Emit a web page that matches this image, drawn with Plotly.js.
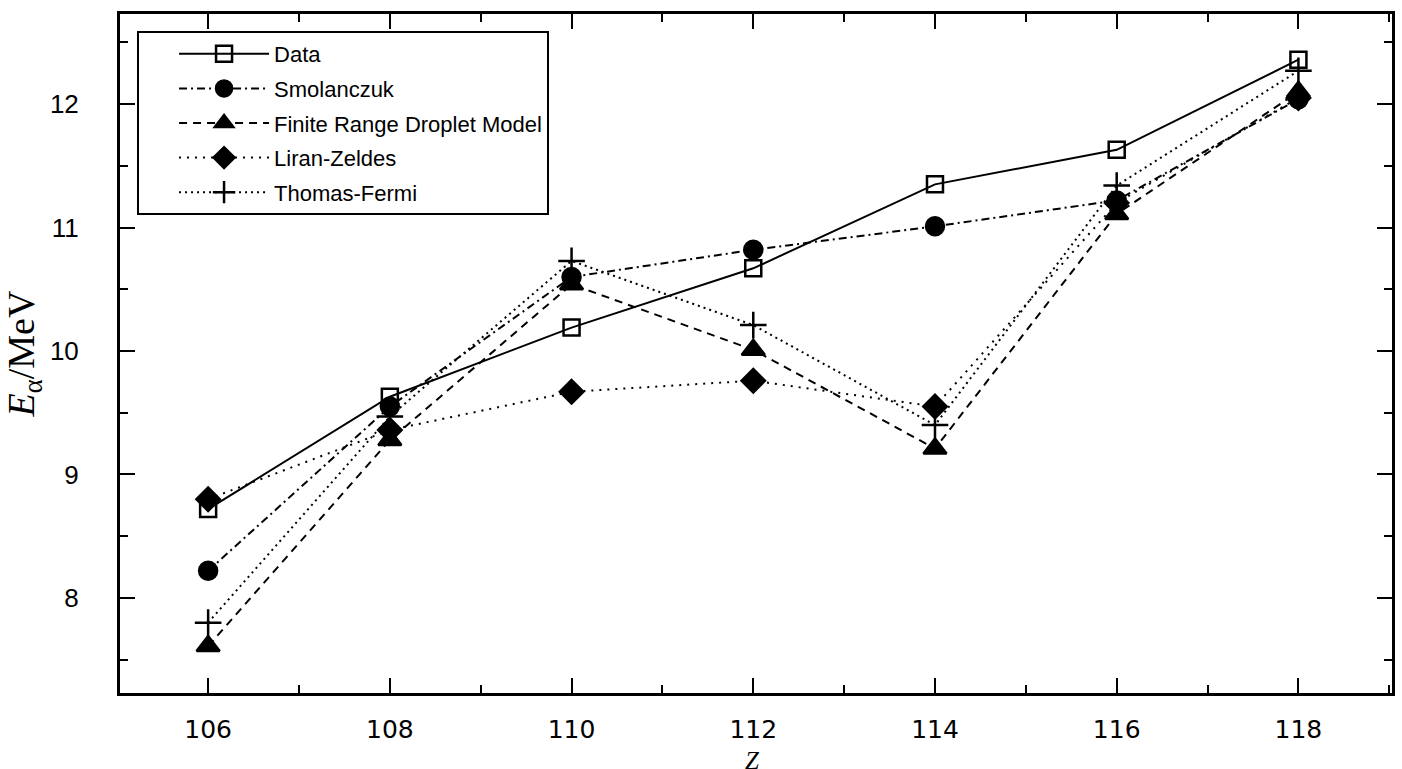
<!DOCTYPE html>
<html>
<head>
<meta charset="utf-8">
<script src="https://cdn.plot.ly/plotly-3.0.1.min.js"></script>
<style>html,body{margin:0;padding:0;background:#fff;}#chart{width:1402px;height:769px;}</style>
</head>
<body>
<div id="chart"></div>
<script>
// Proton number Z
const Z = [106, 108, 110, 112, 114, 116, 118];
// Alpha-decay energies E_alpha (MeV)
const dataE        = [8.72, 9.63, 10.19, 10.67, 11.35, 11.63, 12.36];
const smolanczukE  = [8.22, 9.55, 10.60, 10.82, 11.01, 11.22, 12.04];
const frdmE        = [7.61, 9.28, 10.54, 10.01, 9.21, 11.11, 12.10];
const liranE       = [8.80, 9.36, 9.67, 9.76, 9.55, 11.20, 12.05];
const thomasE      = [7.80, 9.47, 10.73, 10.21, 9.40, 11.34, 12.27];
const seriesNames  = ["Data", "Smolanczuk", "Finite Range Droplet Model", "Liran-Zeldes", "Thomas-Fermi"];
const xTicks = [106, 108, 110, 112, 114, 116, 118];
const yTicks = [8, 9, 10, 11, 12];
const xTitle = "<i>Z</i>";
const yTitle = "<i>E</i><sub>α</sub>/MeV";

const black = "#000";
function tr(y, name, dash, symbol, size, grp, rank) {
  return {
    x: Z, y: y, name: name, type: "scatter", mode: "lines+markers",
    legendgroup: grp, legendrank: rank,
    line: {color: black, width: 2, dash: dash},
    marker: {symbol: symbol, size: size, color: black, line: {color: black, width: 2.5}}
  };
}
// drawing order (legend order kept by legendrank)
const traces = [
  tr(dataE, seriesNames[0], "solid", "square-open", 16, "a", 1),
  tr(liranE, seriesNames[3], "2px,6px", "diamond", 18, "d", 4),
  tr(thomasE, seriesNames[4], "2px,4px", "cross-thin-open", 19, "e", 5),
  tr(smolanczukE, seriesNames[1], "8px,4px,2px,4px", "circle", 18, "b", 2),
  tr(frdmE, seriesNames[2], "8px,6px", "triangle-up", 20, "c", 3)
];

const axisCommon = {
  showline: true, mirror: "ticks", linecolor: black, linewidth: 3,
  ticks: "inside", tickcolor: black, tickwidth: 2, ticklen: 15,
  showgrid: false, zeroline: false
};

const layout = {
  width: 1402, height: 769,
  paper_bgcolor: "#fff", plot_bgcolor: "#fff",
  margin: {l: 120, r: 10, t: 14, b: 76},
  showlegend: true,
  legend: {
    x: 0.0134, y: 0.975, xanchor: "left", yanchor: "top",
    bgcolor: "#fff", bordercolor: black, borderwidth: 2,
    font: {family: "Liberation Sans, Arial, sans-serif", size: 22, color: black},
    tracegroupgap: 3, indentation: 35, itemwidth: 90
  },
  xaxis: Object.assign({}, axisCommon, {
    range: [105.03, 119.03], tickmode: "array", tickvals: xTicks, ticktext: xTicks.map(String),
    tickfont: {family: "DejaVu Sans, Liberation Sans, sans-serif", size: 25, color: black},
    ticklabelstandoff: 12,
    minor: {ticks: "inside", dtick: 1, tick0: 105, ticklen: 8, tickwidth: 2, tickcolor: black, showgrid: false}
  }),
  yaxis: Object.assign({}, axisCommon, {
    range: [7.23, 12.73], tickmode: "array", tickvals: yTicks, ticktext: yTicks.map(String),
    tickfont: {family: "Liberation Sans, Arial, sans-serif", size: 26, color: black},
    ticklabelstandoff: 33,
    minor: {ticks: "inside", dtick: 0.5, tick0: 7, ticklen: 8, tickwidth: 2, tickcolor: black, showgrid: false},
    title: {text: yTitle, font: {family: "Liberation Serif, Times New Roman, serif", size: 38, color: black}, standoff: 6}
  }),
  annotations: [{
    text: xTitle, xref: "paper", yref: "paper", x: 0.497, y: -0.121,
    xanchor: "center", yanchor: "bottom", showarrow: false, borderpad: 0,
    font: {family: "Liberation Serif, Times New Roman, serif", size: 25, color: black}
  }]
};

Plotly.newPlot("chart", traces, layout, {displayModeBar: false, staticPlot: true});
</script>
</body>
</html>
